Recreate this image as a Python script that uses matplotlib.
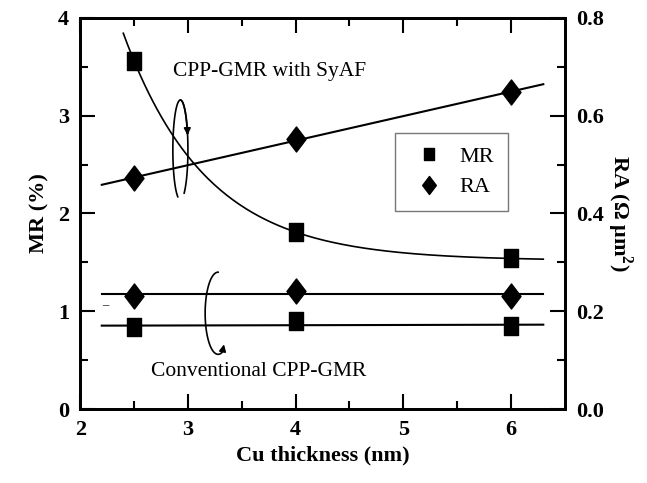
#!/usr/bin/env python3

import numpy as np
import matplotlib
matplotlib.use("Agg")
import matplotlib.pyplot as plt
from matplotlib.path import Path

# data.
cu_nm = [2.5, 4.0, 6.0]
mr_syaf = [3.56, 1.81, 1.54]
ra_syaf = [0.472, 0.552, 0.648]
mr_conv = [0.84, 0.90, 0.85]
ra_conv = [0.232, 0.242, 0.232]

plt.rcParams["font.family"] = ["Liberation Serif", "DejaVu Serif"]
plt.rcParams["mathtext.fontset"] = "custom"
plt.rcParams["mathtext.rm"] = "Liberation Serif:bold"

# slightly tall markers, as in the scanned figure.
SQ = Path([(-0.85, -1), (0.85, -1), (0.85, 1), (-0.85, 1), (-0.85, -1)], closed=True)
DM = Path([(0, 1), (0.76, 0), (0, -1), (-0.76, 0), (0, 1)], closed=True)


# fit y = y0 + A*exp(-x/t) with a grid search over t.
def exp_fit(x, y):
    x = np.asarray(x)
    y = np.asarray(y)
    best = None
    for t in np.linspace(0.3, 3.0, 2701):
        M = np.column_stack([np.ones_like(x), np.exp(-x / t)])
        coef, *_ = np.linalg.lstsq(M, y, rcond=None)
        err = np.sum((M @ coef - y) ** 2)
        if best is None or err < best[0]:
            best = (err, coef, t)
    _, (y0, a), t = best
    return lambda xx: y0 + a * np.exp(-xx / t)


fig = plt.figure(figsize=(6.47, 4.83), dpi=100)
ax = fig.add_axes([0.124, 0.153, 0.749, 0.810])
ax2 = ax.twinx()

# fitted curves.
xf = np.linspace(2.4, 6.3, 200)
ax.plot(xf, exp_fit(cu_nm, mr_syaf)(xf), color="black", lw=1.2)
xl = np.linspace(2.2, 6.3, 2)
ax2.plot(xl, np.polyval(np.polyfit(cu_nm, ra_syaf, 1), xl), color="black", lw=1.5)
ax.plot(xl, np.full(2, np.mean(mr_conv)) - [0.01, 0.0], color="black", lw=1.5)
ax2.plot(xl, np.full(2, np.mean(ra_conv)), color="black", lw=1.5)

# markers.
ax.plot(cu_nm, mr_syaf, marker=SQ, ls="none", color="black", ms=12.5, label="MR")
ax.plot(cu_nm, mr_conv, marker=SQ, ls="none", color="black", ms=12.5)
ax2.plot(cu_nm, ra_syaf, marker=DM, ls="none", color="black", ms=18, label="RA")
ax2.plot(cu_nm, ra_conv, marker=DM, ls="none", color="black", ms=18)

# curved arrows.
th = np.radians(np.linspace(-60, 250, 100))
cx, cy, rx, ry = 2.93, 2.65, 0.07, 0.51
ax.plot(cx + rx * np.cos(th), cy + ry * np.sin(th), color="black", lw=1.2)
th = np.radians(np.linspace(20, 90, 30))
ax.plot(cx + rx * np.cos(th), cy + ry * np.sin(th), color="black", lw=1.2)
ax.annotate("", xy=(cx + rx * 0.95, 2.80), xytext=(cx + rx * np.cos(np.radians(20)), cy + ry * np.sin(np.radians(20))),
            arrowprops=dict(arrowstyle="-|>", color="black", lw=1.2, mutation_scale=10))
th = np.radians(np.linspace(90, 290, 100))
cx, cy, rx, ry = 3.28, 0.98, 0.12, 0.42
ax.plot(cx + rx * np.cos(th), cy + ry * np.sin(th), color="black", lw=1.2)
ax.annotate("", xy=(3.34, 0.69), xytext=(cx + rx * np.cos(th[-1]), cy + ry * np.sin(th[-1])),
            arrowprops=dict(arrowstyle="-|>", color="black", lw=1.2, mutation_scale=10))

ax.text(2.86, 3.45, "CPP-GMR with SyAF", fontsize=15.5, va="center", ha="left")
ax.text(2.66, 0.38, "Conventional CPP-GMR", fontsize=15.5, va="center", ha="left")
ax.text(2.23, 1.06, "\u2013", fontsize=9, va="center", ha="center")

# axes.
ax.set_xlim(2, 6.5)
ax.set_ylim(0, 4)
ax2.set_ylim(0, 0.8)
ax.set_xticks([2, 3, 4, 5, 6])
ax.set_xticks(np.arange(2.5, 6.5, 0.5), minor=True)
ax.set_yticks([0, 1, 2, 3, 4])
ax.set_yticks(np.arange(0.5, 4, 1.0), minor=True)
ax2.set_yticks([0.0, 0.2, 0.4, 0.6, 0.8])
ax2.set_yticks(np.arange(0.1, 0.8, 0.2), minor=True)
ax2.set_yticklabels(["0.0", "0.2", "0.4", "0.6", "0.8"])
ax.tick_params(which="both", direction="in", top=True, right=False, width=1.5, labelsize=16, pad=8)
ax.tick_params(which="major", length=11)
ax.tick_params(which="minor", length=6)
ax2.tick_params(which="both", direction="in", width=1.5, labelsize=16, pad=8)
ax2.tick_params(which="major", length=11)
ax2.tick_params(which="minor", length=6)
for a in (ax, ax2):
    for lab in a.get_xticklabels() + a.get_yticklabels():
        lab.set_fontweight("bold")
    for s in a.spines.values():
        s.set_linewidth(2)

ax.set_xlabel("Cu thickness (nm)", fontsize=16, fontweight="bold", labelpad=4)
ax.set_ylabel("MR (%)", fontsize=16, fontweight="bold", labelpad=6)
ax2.set_ylabel("RA (\u03a9 \u03bcm$^{2}$)", fontsize=16, fontweight="bold", rotation=270, labelpad=22)

h1, l1 = ax.get_legend_handles_labels()
h2, l2 = ax2.get_legend_handles_labels()
leg = ax2.legend(h1 + h2, l1 + l2, loc="upper left", bbox_to_anchor=(0.65, 0.706), fontsize=16,
                 frameon=True, fancybox=False, edgecolor="#555555", handletextpad=0.5,
                 borderpad=0.6, labelspacing=0.45, markerscale=0.72, handlelength=1.8,
                 borderaxespad=0)
leg.get_frame().set_linewidth(1.0)

fig.savefig("out.png", dpi=100)
